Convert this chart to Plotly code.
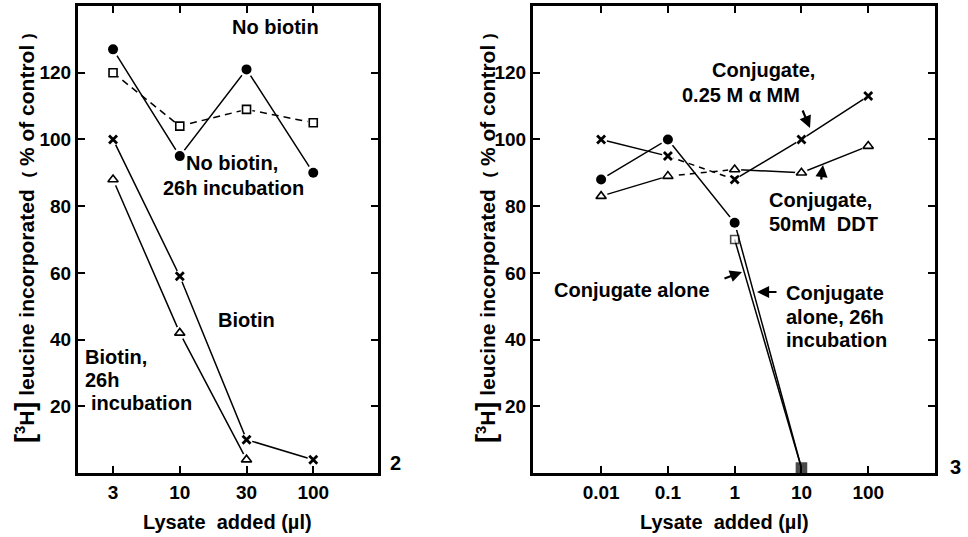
import plotly.graph_objects as go

W, H = 968, 537

# ---------------- data ----------------
# Panel 2 (left)
lysate_left = ["3", "10", "30", "100"]
no_biotin = [127, 95, 121, 90]
no_biotin_26h = [120, 104, 109, 105]
biotin = [100, 59, 10, 4]
biotin_26h = [88, 42, 4]

# Panel 3 (right)
lysate_right = [0.01, 0.1, 1, 10, 100]
lysate_right_labels = ["0.01", "0.1", "1", "10", "100"]
conj_alone = [88, 100, 75, 1.5]
conj_alone_26h_x = [1, 10]
conj_alone_26h = [70, 1.5]
conj_amm = [100, 95, 88, 100, 113]
conj_ddt = [83, 89, 91, 90, 98]

y_ticks = [20, 40, 60, 80, 100, 120]

FONT = "Liberation Sans, Arial, Helvetica, sans-serif"

fig = go.Figure()


def line(x, y, xa, ya, dash="solid", width=1.5):
    fig.add_trace(go.Scatter(x=x, y=y, mode="lines", xaxis=xa, yaxis=ya,
                             line=dict(color="black", width=width, dash=dash),
                             hoverinfo="skip", showlegend=False))


def marks(x, y, xa, ya, symbol, size, color="black", lw=0, halo=5):
    fig.add_trace(go.Scatter(x=x, y=y, mode="markers", xaxis=xa, yaxis=ya,
                             marker=dict(symbol="circle", size=size + halo, color="white"),
                             cliponaxis=False, hoverinfo="skip", showlegend=False))
    fig.add_trace(go.Scatter(x=x, y=y, mode="markers", xaxis=xa, yaxis=ya,
                             marker=dict(symbol=symbol, size=size, color=color,
                                         line=dict(color="black", width=lw)),
                             cliponaxis=False, hoverinfo="skip", showlegend=False))


# ---- left panel ----
line(lysate_left, no_biotin, "x", "y")
line(lysate_left, no_biotin_26h, "x", "y", dash="7px,5px")
line(lysate_left, biotin, "x", "y")
line(lysate_left[:3], biotin_26h, "x", "y")
marks(lysate_left, no_biotin, "x", "y", "circle", 10)
marks(lysate_left, no_biotin_26h, "x", "y", "square-open", 8, lw=1.6, halo=4)
marks(lysate_left, biotin, "x", "y", "x-thin-open", 8, lw=2.8, halo=4)
marks(lysate_left[:3], biotin_26h, "x", "y", "triangle-up-open", 9, lw=1.6, halo=4)

# ---- right panel ----
line(lysate_right[:4], conj_alone, "x2", "y2")
line(conj_alone_26h_x, conj_alone_26h, "x2", "y2")
for ser in (conj_amm, conj_ddt):
    line(lysate_right[:2], ser[:2], "x2", "y2")
    line(lysate_right[1:3], ser[1:3], "x2", "y2", dash="6px,5px")
    line(lysate_right[2:], ser[2:], "x2", "y2")
marks(lysate_right[:3], conj_alone[:3], "x2", "y2", "circle", 10)
marks(lysate_right, conj_amm, "x2", "y2", "x-thin-open", 8, lw=2.8, halo=4)
marks(lysate_right, conj_ddt, "x2", "y2", "triangle-up-open", 9, lw=1.6, halo=4)
fig.add_trace(go.Scatter(x=conj_alone_26h_x, y=conj_alone_26h, mode="markers",
                         xaxis="x2", yaxis="y2", cliponaxis=False,
                         marker=dict(symbol="square", size=[8, 10],
                                     color=["white", "black"],
                                     line=dict(color="black", width=1.6)),
                         hoverinfo="skip", showlegend=False))

# ---------------- axes ----------------
axis_common = dict(showline=True, linewidth=3, linecolor="black", mirror="ticks",
                   ticks="inside", ticklen=7, tickwidth=2, tickcolor="black",
                   showgrid=False, zeroline=False,
                   tickfont=dict(family=FONT, size=19, color="black"))


def bold(labels):
    return ["<b>%s</b>" % s for s in labels]


yd = [64 / H, 1 - 6 / H]
fig.update_layout(
    width=W, height=H, margin=dict(l=0, r=0, t=0, b=0, autoexpand=False),
    paper_bgcolor="white", plot_bgcolor="white", showlegend=False,
    xaxis=dict(domain=[78 / W, 378 / W], type="category",
               categoryorder="array", categoryarray=lysate_left,
               tickvals=lysate_left, ticktext=bold(lysate_left),
               range=[-0.525, 3.97], anchor="y", **axis_common),
    yaxis=dict(domain=yd, range=[0, 140], tickvals=y_ticks,
               ticktext=bold([str(v) for v in y_ticks]), anchor="x", **axis_common),
    xaxis2=dict(domain=[533 / W, 935 / W], type="log", range=[-3.02, 3.0],
                tickvals=lysate_right, ticktext=bold(lysate_right_labels),
                anchor="y2", **axis_common),
    yaxis2=dict(domain=yd, range=[0, 140], tickvals=y_ticks,
                ticktext=bold([str(v) for v in y_ticks]), anchor="x2", **axis_common),
)


# ---------------- text ----------------
def txt(x, y, text, size=19, xanchor="center", angle=0):
    fig.add_annotation(x=x / W, y=1 - y / H, xref="paper", yref="paper", text=text,
                       showarrow=False, xanchor=xanchor, yanchor="middle",
                       textangle=angle,
                       font=dict(family=FONT, size=size, color="black", weight="bold"))


def arrow(tx, ty, sx, sy):
    fig.add_annotation(x=tx / W, y=1 - ty / H, xref="paper", yref="paper", text="",
                       showarrow=True, ax=sx - tx, ay=sy - ty, axref="pixel", ayref="pixel",
                       arrowhead=2, arrowsize=1.1, arrowwidth=2.2, arrowcolor="black")


ytitle = ("<span style='font-size:27px'>[</span><sup>3</sup>H<span style='font-size:27px'>]</span>"
          " leucine incorporated \u00a0<span style='font-size:17px'>(</span> % of control "
          "<span style='font-size:17px'>)</span>")
txt(25, 238, ytitle, size=21, angle=-90)
txt(486, 238, ytitle, size=21, angle=-90)
xtitle = "Lysate \u00a0added (\u00b5l)"
txt(227, 522, xtitle, size=20)
txt(724, 522, xtitle, size=20)

# panel numbers
txt(395, 463, "2", size=20)
txt(955, 467, "3", size=20)

# left panel labels
txt(275, 27, "No biotin", size=20)
txt(232, 163, "No biotin,", size=20)
txt(233, 188, "26h incubation", size=20)
txt(246, 320, "Biotin", size=20)
txt(83, 357, "Biotin,", size=20, xanchor="left")
txt(83, 380, "26h", size=20, xanchor="left")
txt(89, 403, "incubation", size=20, xanchor="left")

# right panel labels
txt(763, 70, "Conjugate,", size=20)
txt(741, 95, "0.25 M \u03b1 MM", size=20)
txt(767, 200, "Conjugate,", size=20, xanchor="left")
txt(767, 224, "50mM \u00a0DDT", size=20, xanchor="left")
txt(552, 290, "Conjugate alone", size=20, xanchor="left")
txt(784, 293, "Conjugate", size=20, xanchor="left")
txt(784, 317, "alone, 26h", size=20, xanchor="left")
txt(784, 340, "incubation", size=20, xanchor="left")

# arrows
arrow(810, 128, 802, 109)
arrow(823, 165, 821, 181)
arrow(742, 272, 723, 279)
arrow(757, 292, 778, 292)

fig.write_html("out.html", config={"displayModeBar": False},
               post_script="document.body.style.margin='0';document.body.style.overflow='hidden';")
